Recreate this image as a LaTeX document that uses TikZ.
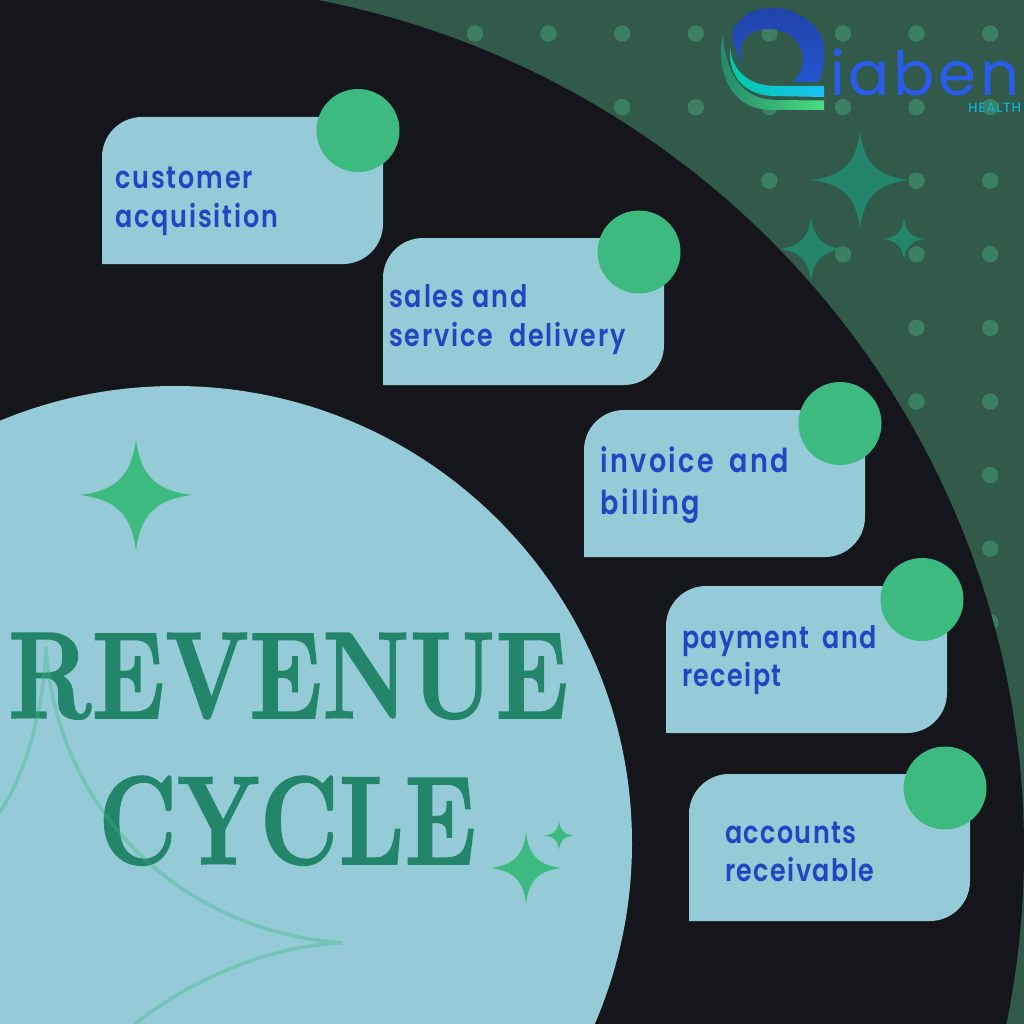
\documentclass[tikz,border=0pt]{standalone}
\usepackage{fontspec}
\usepackage{graphicx}
\newfontfamily\labfont[LetterSpace=6,FakeStretch=.82]{Poppins SemiBold}
\newfontfamily\labfontb[LetterSpace=7.5,FakeStretch=.82]{Poppins SemiBold}
\newfontfamily\labfontc[LetterSpace=4.5,FakeStretch=.82]{Poppins SemiBold}
\newfontfamily\logofont[LetterSpace=6]{Poppins}
\newfontfamily\hfont[LetterSpace=5.5]{Poppins Medium}
\newfontfamily\titlefont[BoldFeatures={FakeBold=1.2}]{Latin Modern Roman}
\definecolor{bgc}{HTML}{325A4B}
\definecolor{dotc}{HTML}{3C7F63}
\definecolor{darkc}{HTML}{14161B}
\definecolor{lightc}{HTML}{95CAD7}
\definecolor{greenc}{HTML}{3CBA7F}
\definecolor{deepc}{HTML}{23856A}
\definecolor{bluec}{HTML}{2146C2}
\definecolor{ringa}{HTML}{1F44A8}
\definecolor{ringb}{HTML}{2454D2}
\definecolor{tealc}{HTML}{00C9A7}
\definecolor{skyc}{HTML}{18C3F5}
\definecolor{limec}{HTML}{4ADE80}
\definecolor{brandc}{HTML}{2A5CEC}
\definecolor{healthc}{HTML}{12B0C8}
\tikzset{
  lab/.style={anchor=north west,inner sep=0pt,align=left,text=bluec,font=\labfont\fontsize{31}{39}\selectfont},
  labb/.style={lab,font=\labfontb\fontsize{33}{42}\selectfont},
  labc/.style={lab,font=\labfontc\fontsize{31}{38}\selectfont},
  cardc/.style={fill=lightc},
  badge/.style={circle,fill=greenc,minimum size=83pt,inner sep=0pt},
  titletxt/.style={anchor=base west,inner sep=0pt,text=deepc},
  arcline/.style={draw=greenc,draw opacity=.35,line width=3.5pt,line cap=round}
}
\newcommand{\sparkle}[4]{\fill[#4,shift={(#1,#2)},scale=#3] (0,-1) .. controls (.08,-.35) and (.35,-.08) .. (1,0) .. controls (.35,.08) and (.08,.35) .. (0,1) .. controls (-.08,.35) and (-.35,.08) .. (-1,0) .. controls (-.35,-.08) and (-.08,-.35) .. cycle;}
\newcommand{\card}[2]{\fill[cardc,shift={(#1,#2)}] (0,147) -- (0,40) .. controls (0,18) and (18,0) .. (40,0) -- (281,0) -- (281,107) .. controls (281,129) and (263,147) .. (241,147) -- cycle;}
\begin{document}
\begin{tikzpicture}[x=1pt,y=-1pt]
\useasboundingbox (0,0) rectangle (1024,1024);
\fill[bgc] (0,0) rectangle (1024,1024);
\foreach \j/\s in {0/0,1/2,2/4,3/5,4/6,5/6,6/7,7/7,8/7}{\foreach \i in {\s,...,7}{
  \fill[dotc] ({475+73.6*\i},{33.5+73.6*\j}) circle (8.2pt);
}}
\begin{scope}
\clip (0,0) rectangle (1024,1024);
\fill[darkc] (148.4,850) ellipse [x radius=875.6pt,y radius=866.2pt];
\fill[lightc] (175,843) circle (457pt);
\end{scope}
\sparkle{860}{180}{49}{deepc}
\sparkle{811}{249}{32}{deepc}
\sparkle{904}{239}{21}{deepc}
% logo
\shade[top color=ringa,bottom color=ringb] (743,65) .. controls (736,50) and (730,38) .. (733,30) .. controls (742,14) and (755,8) .. (772,8) .. controls (800,8) and (824,28) .. (824,50) .. controls (825,62) and (822,74) .. (819,82) -- (793,82) .. controls (800,74) and (803,68) .. (803,58) .. controls (802,40) and (786,29) .. (768,29) .. controls (752,29) and (742,38) .. (741,48) .. controls (741,54) and (742,60) .. (743,65) -- cycle;
\shade[left color=deepc,right color=limec] (723,35) .. controls (716,60) and (724,110) .. (772,110) -- (824,110) -- (824,100.5) -- (772,100) .. controls (745,98) and (726,78) .. (723,35) -- cycle;
\shade[left color=tealc,right color=skyc] (730,47) .. controls (732,72) and (750,86) .. (776,86) -- (824,86) -- (824,97) -- (772,96) .. controls (745,94) and (728,78) .. (730,47) -- cycle;
\node[anchor=base west,inner sep=0pt,text=brandc] (brand) at (830,96) {\logofont\fontsize{61}{61}\selectfont iaben};
\node[anchor=base west,inner sep=0pt,text=healthc] (sub) at (968,113) {\hfont\fontsize{13.5}{13}\selectfont HEALTH};
% cards
\card{102}{117}
\card{383}{238}
\card{584}{410}
\card{666}{586}
\card{689}{774}
\node[badge] (b1) at (358,130.5) {};
\node[badge] (b2) at (639,252) {};
\node[badge] (b3) at (840,423.5) {};
\node[badge] (b4) at (922,599.5) {};
\node[badge] (b5) at (945,788) {};
\node[lab] (t1) at (115,158.5) {\rule{0pt}{30pt}customer\\acquisition};
\node[lab] (t2) at (389,277.5) {\rule{0pt}{30pt}sales and\\service\hspace{8pt} delivery};
\node[labb] (t3) at (600,442) {\rule{0pt}{30pt}invoice\hspace{6pt} and\\billing};
\node[labc] (t4) at (682,618) {\rule{0pt}{30pt}payment\hspace{6pt} and\\receipt};
\node[labc] (t5) at (725,813) {\rule{0pt}{30pt}accounts\\receivable};
% title
\node[titletxt] (rev) at (8,718) {\resizebox{560pt}{85pt}{\titlefont\bfseries REVENUE}};
\node[titletxt] (cyc) at (98,864) {\resizebox{378pt}{88pt}{\titlefont\bfseries CYCLE}};
\sparkle{136}{495}{56}{greenc}
\sparkle{526}{868}{35.5}{greenc}
\sparkle{559}{835.5}{14.5}{greenc}
\draw[arcline] (0,812) .. controls (25,775) and (44,710) .. (46,647) .. controls (55,800) and (170,930) .. (343,943) .. controls (270,945) and (190,980) .. (135,1024);
\end{tikzpicture}
\end{document}
